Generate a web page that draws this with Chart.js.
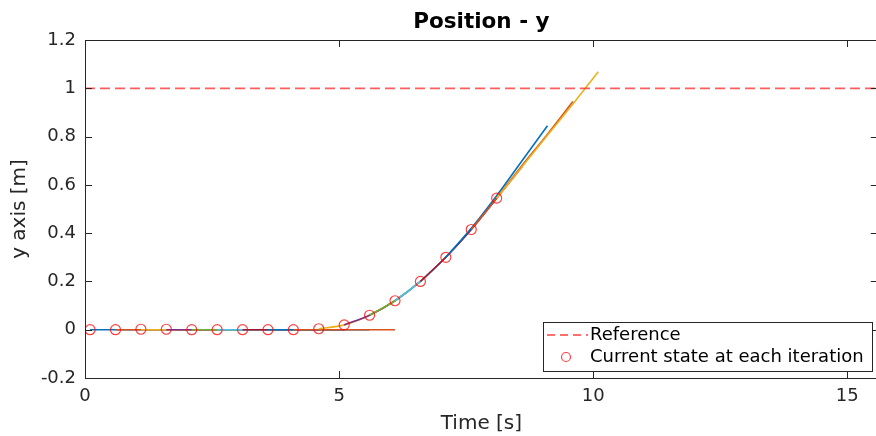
<!DOCTYPE html>
<html>
<head>
<meta charset="utf-8">
<script src="https://cdn.jsdelivr.net/npm/chart.js@4"></script>
<style>
  html, body { margin: 0; padding: 0; background: #fff; overflow: hidden; }
  #wrap { width: 876px; height: 436px; overflow: hidden; }
</style>
</head>
<body>
<div id="wrap"><canvas id="posChart" width="884" height="436"></canvas></div>
<script>
// iteration times (s) and measured state at each iteration
const iterTimes = [0.1, 0.6, 1.1, 1.6, 2.1, 2.6, 3.1, 3.6, 4.1, 4.6, 5.1, 5.6, 6.1, 6.6, 7.1, 7.6, 8.1];
const stateY    = [0, 0, 0.002, 0.002, 0, 0, 0, 0, 0, 0.004, 0.02, 0.06, 0.12, 0.2, 0.3, 0.415, 0.545];

// predicted trajectory from each iteration, sampled at these offsets (s)
const predOffsets = [0, 0.5, 1.0, 1.5, 2.0];
const predY = [
  [0, 0, 0, 0, 0],
  [0, 0, 0, 0, 0],
  [0, 0, 0, 0, 0],
  [0, 0, 0, 0, 0],
  [0, 0, 0, 0, 0],
  [0, 0, 0, 0, 0],
  [0, 0, 0, 0, 0],
  [0, 0, 0, 0, 0],
  [0, 0, 0, 0, 0],
  [0.004, 0.02, 0.06, 0.12, 0.2],
  [0.02, 0.06, 0.12, 0.2, 0.3],
  [0.06, 0.12, 0.2, 0.3, 0.415],
  [0.12, 0.2, 0.3, 0.415, 0.545],
  [0.2, 0.3, 0.415, 0.545, 0.675],
  [0.3, 0.42, 0.555, 0.7, 0.845],
  [0.415, 0.545, 0.68, 0.81, 0.945],
  [0.545, 0.675, 0.805, 0.935, 1.068]
];

// reference line
const refX = [0, 15.6];
const refY = [1, 1];

const xTicks = [0, 5, 10, 15];
const yTicks = [-0.2, 0, 0.2, 0.4, 0.6, 0.8, 1, 1.2];

const lineColors = ['#0072BD', '#D95319', '#EDB120', '#7E2F8E', '#77AC30', '#4DBEEE', '#A2142F'];
const axisColor = '#262626';

const ctx = document.getElementById('posChart');

function buildDatasets(){
    const sets = [];
    sets.push({
        label: 'Current state at each iteration',
        data: iterTimes.map((t, i) => ({x: t, y: stateY[i]})),
        showLine: false,
        pointStyle: 'circle',
        pointRadius: 5,
        pointBorderWidth: 1.2,
        pointBorderColor: 'rgba(255,0,0,0.75)',
        pointBackgroundColor: 'rgba(0,0,0,0)',
        order: 0
    });
    sets.push({
        label: 'Reference',
        data: refX.map((x, i) => ({x: x, y: refY[i]})),
        showLine: true,
        borderColor: 'rgba(255,40,40,0.75)',
        borderWidth: 1.8,
        borderDash: [10, 5],
        pointRadius: 0,
        order: 1
    });
    predY.forEach(function(vals, k){
        sets.push({
            label: 'pred' + k,
            data: vals.map((v, j) => ({x: iterTimes[k] + predOffsets[j], y: v})),
            showLine: true,
            borderColor: lineColors[k % lineColors.length],
            borderWidth: 1.6,
            pointRadius: 0,
            cubicInterpolationMode: 'monotone',
            order: 100 - k
        });
    });
    return sets;
}

const framePlugin = {
    id: 'frame',
    afterDatasetsDraw(chart){
        const c = chart.ctx;
        const a = chart.chartArea;
        const sx = chart.scales.x, sy = chart.scales.y;
        c.save();
        c.strokeStyle = axisColor;
        c.lineWidth = 1;
        c.beginPath();
        c.rect(Math.round(a.left) + 0.5, Math.round(a.top) + 0.5, Math.round(a.right - a.left), Math.round(a.bottom - a.top));
        c.stroke();
        // inward tick marks
        c.beginPath();
        xTicks.forEach(function(v){
            const px = Math.round(sx.getPixelForValue(v)) + 0.5;
            c.moveTo(px, a.bottom); c.lineTo(px, a.bottom - 7);
            c.moveTo(px, a.top); c.lineTo(px, a.top + 7);
        });
        yTicks.forEach(function(v){
            const py = Math.round(sy.getPixelForValue(v)) + 0.5;
            c.moveTo(a.left, py); c.lineTo(a.left + 7, py);
            c.moveTo(a.right, py); c.lineTo(a.right - 7, py);
        });
        c.stroke();

        // legend box
        const lx = 543, ly = 322, lw = 329, lh = 49;
        c.fillStyle = '#fff';
        c.fillRect(lx, ly, lw, lh);
        c.strokeStyle = axisColor;
        c.strokeRect(lx + 0.5, ly + 0.5, lw, lh);
        c.strokeStyle = 'rgba(255,40,40,0.9)';
        c.lineWidth = 1.5;
        c.setLineDash([8, 5]);
        c.beginPath();
        c.moveTo(547, 335); c.lineTo(588, 335);
        c.stroke();
        c.setLineDash([]);
        c.strokeStyle = 'rgba(255,0,0,0.75)';
        c.lineWidth = 1.2;
        c.beginPath();
        c.arc(566, 357, 4.5, 0, Math.PI * 2);
        c.stroke();
        c.fillStyle = '#000';
        c.font = '18px "DejaVu Sans"';
        c.textBaseline = 'middle';
        c.textAlign = 'left';
        c.fillText('Reference', 590, 335);
        c.fillText('Current state at each iteration', 590, 357);
        c.restore();
    }
};

new Chart(ctx, {
    type: 'scatter',
    data: { datasets: buildDatasets() },
    options: {
        responsive: false,
        animation: false,
        layout: { padding: {left: 0, top: 10, right: 3, bottom: 0} },
        plugins: {
            legend: {display: false},
            tooltip: {enabled: false},
            title: {
                display: true,
                text: 'Position - y',
                color: '#000',
                font: {family: 'DejaVu Sans', size: 21.5, weight: 'bold'},
                padding: {top: 0, bottom: 4.2},
                position: 'top',
                fullSize: false
            }
        },
        scales: {
            x: {
                type: 'linear',
                min: 0,
                max: 15.6,
                afterFit: function(s){ s.height = 58; },
                afterBuildTicks: function(s){ s.ticks = xTicks.map(v => ({value: v})); },
                grid: {display: false, drawTicks: false},
                border: {display: false},
                ticks: {
                    color: axisColor,
                    padding: 8,
                    maxRotation: 0,
                    font: {family: 'DejaVu Sans', size: 18}
                },
                title: {
                    display: true,
                    text: 'Time [s]',
                    color: axisColor,
                    font: {family: 'DejaVu Sans', size: 20},
                    padding: {top: 0, bottom: 0}
                }
            },
            y: {
                type: 'linear',
                min: -0.2,
                max: 1.2,
                afterFit: function(s){ s.width = 85; },
                afterBuildTicks: function(s){ s.ticks = yTicks.map(v => ({value: v})); },
                grid: {display: false, drawTicks: false},
                border: {display: false},
                ticks: {
                    color: axisColor,
                    padding: 9,
                    font: {family: 'DejaVu Sans', size: 18},
                    callback: v => String(+v.toFixed(1))
                },
                title: {
                    display: true,
                    text: 'y axis [m]',
                    color: axisColor,
                    font: {family: 'DejaVu Sans', size: 20},
                    padding: {top: 8, bottom: 0}
                }
            }
        }
    },
    plugins: [framePlugin]
});
</script>
</body>
</html>
